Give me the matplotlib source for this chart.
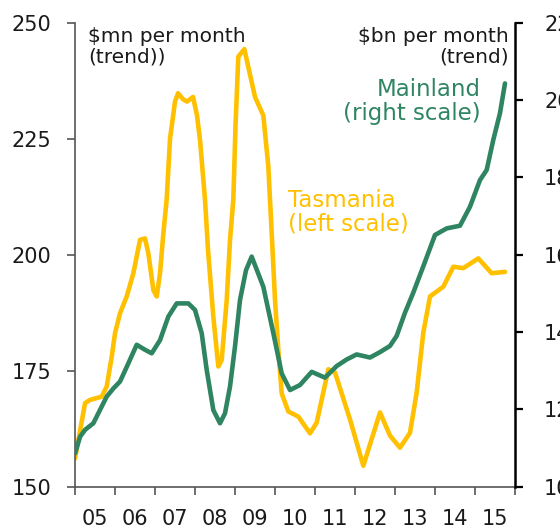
import matplotlib
matplotlib.use("Agg")
import matplotlib.pyplot as plt
from matplotlib.ticker import FixedLocator, NullFormatter

# Tasmania, $mn per month (left scale)
tas_year = [2005.000, 2005.250, 2005.375, 2005.667, 2005.792, 2005.917, 2006.000,
            2006.125, 2006.292, 2006.458, 2006.625, 2006.750, 2006.833, 2006.958,
            2007.042, 2007.125, 2007.208, 2007.292, 2007.375, 2007.500, 2007.575,
            2007.700, 2007.800, 2007.950, 2008.050, 2008.125, 2008.250, 2008.325,
            2008.458, 2008.583, 2008.667, 2008.792, 2008.875, 2008.958, 2009.013,
            2009.083, 2009.233, 2009.500, 2009.708, 2009.833, 2009.917, 2010.000,
            2010.083, 2010.167, 2010.333, 2010.583, 2010.875, 2011.042, 2011.333,
            2011.500, 2011.875, 2012.208, 2012.625, 2012.875, 2013.125, 2013.375,
            2013.542, 2013.708, 2013.875, 2014.208, 2014.458, 2014.708, 2015.083,
            2015.417, 2015.750]
tas_val = [156.1, 168.0, 168.7, 169.4, 171.6, 178.0, 183.1,
           187.4, 191.0, 196.0, 203.2, 203.5, 200.3, 192.4,
           191.0, 196.0, 204.6, 212.0, 225.0, 233.0, 234.8,
           233.5, 233.0, 234.0, 230.0, 224.7, 211.8, 201.0,
           186.6, 175.9, 177.3, 190.2, 203.2, 211.9, 228.0,
           242.7, 244.3, 234.0, 230.0, 219.0, 204.7, 190.2,
           179.5, 170.1, 166.2, 165.1, 161.5, 163.8, 175.3,
           174.6, 164.5, 154.5, 166.0, 161.0, 158.4, 161.6,
           170.3, 183.2, 191.0, 193.1, 197.4, 197.1, 199.2,
           196.0, 196.3]

# Mainland, $bn per month (right scale)
main_year = [2005.000, 2005.125, 2005.250, 2005.458, 2005.583, 2005.792, 2005.958,
             2006.125, 2006.333, 2006.542, 2006.750, 2006.917, 2007.125, 2007.333,
             2007.542, 2007.833, 2008.000, 2008.167, 2008.292, 2008.458, 2008.625,
             2008.750, 2008.875, 2009.000, 2009.125, 2009.275, 2009.417, 2009.708,
             2009.958, 2010.167, 2010.375, 2010.625, 2010.917, 2011.250, 2011.542,
             2011.792, 2012.042, 2012.375, 2012.625, 2012.875, 2013.042, 2013.250,
             2013.458, 2013.708, 2014.000, 2014.292, 2014.625, 2014.875, 2015.125,
             2015.292, 2015.458, 2015.625, 2015.750]
main_val = [10.86, 11.29, 11.47, 11.64, 11.90, 12.33, 12.54,
            12.72, 13.19, 13.67, 13.54, 13.45, 13.79, 14.40,
            14.74, 14.74, 14.57, 13.97, 13.02, 11.98, 11.64,
            11.90, 12.59, 13.63, 14.83, 15.60, 15.95, 15.17,
            13.97, 12.93, 12.50, 12.63, 12.97, 12.82, 13.12,
            13.29, 13.42, 13.34, 13.48, 13.64, 13.90, 14.50,
            15.02, 15.70, 16.51, 16.68, 16.75, 17.24, 17.93,
            18.19, 18.97, 19.66, 20.43]

years = list(range(2005, 2017))
year_labels = ["05", "06", "07", "08", "09", "10", "11", "12", "13", "14", "15"]

yellow = "#FFC000"
green = "#2F8562"

plt.rcParams["font.family"] = ["DejaVu Sans"]

fig = plt.figure(figsize=(5.6, 5.32), dpi=100)
ax = fig.add_axes([0.134, 0.0852, 0.7856, 0.8721])
ax2 = ax.twinx()

ax.plot(tas_year, tas_val, color=yellow, lw=3.3, solid_joinstyle="round",
        solid_capstyle="round", zorder=2)
ax2.plot(main_year, main_val, color=green, lw=3.3, solid_joinstyle="round",
         solid_capstyle="round", zorder=3)

ax.set_xlim(2005, 2016)
ax.set_ylim(150, 250)
ax2.set_ylim(10, 22)
ax.set_yticks([150, 175, 200, 225, 250])
ax2.set_yticks([10, 12, 14, 16, 18, 20, 22])

ax.xaxis.set_major_locator(FixedLocator(years))
ax.xaxis.set_major_formatter(NullFormatter())
ax.xaxis.set_minor_locator(FixedLocator([y + 0.5 for y in years[:-1]]))
ax.set_xticklabels(year_labels, minor=True)

grey = "#555555"
ax.spines["top"].set_visible(False)
ax2.spines["top"].set_visible(False)
ax.spines["left"].set_color(grey)
ax.spines["bottom"].set_color(grey)
ax.spines["left"].set_linewidth(1.2)
ax.spines["bottom"].set_linewidth(1.2)
ax2.spines["left"].set_visible(False)
ax2.spines["bottom"].set_visible(False)
ax.spines["right"].set_visible(False)
ax2.spines["right"].set_color("black")
ax2.spines["right"].set_linewidth(1.8)

ax.tick_params(axis="y", direction="out", length=6, width=1.2, color=grey,
               pad=11, labelsize=15, labelcolor="#1a1a1a")
ax.tick_params(axis="x", which="major", direction="out", length=6, width=1.2,
               color=grey)
ax.tick_params(axis="x", which="minor", length=0, pad=16, labelsize=15,
               labelcolor="#1a1a1a")
ax2.tick_params(axis="y", direction="out", length=6, width=1.6, color="black",
                pad=15, labelsize=15, labelcolor="#1a1a1a")

ax.text(0.030, 0.99, "$mn per month\n(trend))", transform=ax.transAxes,
        ha="left", va="top", fontsize=14.5, color="#1a1a1a", linespacing=1.05)
ax.text(0.985, 0.99, "$bn per month\n(trend)", transform=ax.transAxes,
        ha="right", va="top", fontsize=14.5, color="#1a1a1a", linespacing=1.05)
ax.text(0.923, 0.83, "Mainland\n(right scale)", transform=ax.transAxes,
        ha="right", va="center", fontsize=16.5, color=green, linespacing=1.05)
ax.text(0.484, 0.592, "Tasmania\n(left scale)", transform=ax.transAxes,
        ha="left", va="center", fontsize=16.5, color=yellow, linespacing=1.05)

fig.savefig("out.png", dpi=100)
